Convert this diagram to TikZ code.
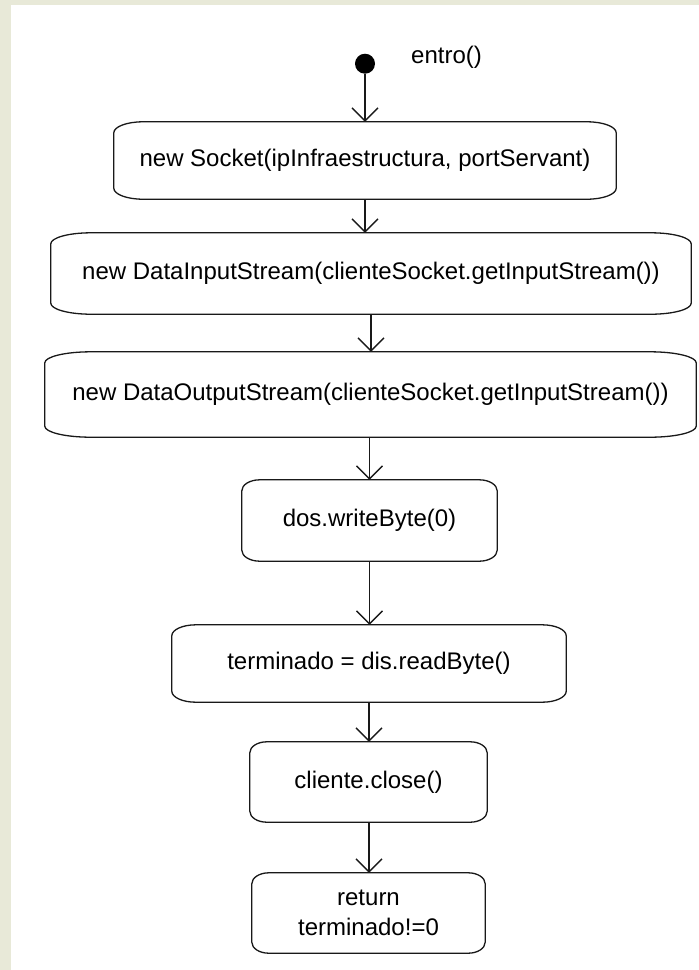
\documentclass[tikz,border=0pt]{standalone}
\usepackage{fontspec}
\setmainfont{Liberation Sans}
\usetikzlibrary{arrows.meta}

\definecolor{paper}{RGB}{232,233,216}
\newcommand\cornery{11pt}

% outline of an activity box: straight sides with elliptical corners
\newcommand\actoutline[2]{%
  \draw[outline] ([xshift=#2]#1.north west) -- ([xshift=-#2]#1.north east)
    arc[start angle=90, end angle=0, x radius=#2, y radius=\cornery]
    -- ([yshift=\cornery]#1.south east)
    arc[start angle=0, end angle=-90, x radius=#2, y radius=\cornery]
    -- ([xshift=#2]#1.south west)
    arc[start angle=270, end angle=180, x radius=#2, y radius=\cornery]
    -- ([yshift=-\cornery]#1.north west)
    arc[start angle=180, end angle=90, x radius=#2, y radius=\cornery]
    -- cycle;}

\begin{document}
\begin{tikzpicture}[x=1pt, y=1pt,
  txt/.style={font=\fontsize{24}{30}\selectfont, text=black},
  act/.style={txt, inner sep=0pt, align=center, draw=none},
  outline/.style={line width=1.3pt, draw=black!90},
  flow/.style={line width=1.3pt, draw=black!90,
    -{Straight Barb[length=13pt, width=26pt, line width=1.3pt]}},
  startdot/.style={circle, fill=black, minimum size=20pt, inner sep=0pt}]

  % page: textured margin strip and white sheet
  \useasboundingbox (0,0) rectangle (699,-970);
  \fill[paper] (0,0) rectangle (699,-970);
  \fill[white] (11,-5) rectangle (699,-970);

  % initial state
  \node[startdot] (start) at (365,-63.7) {};
  \node[txt, anchor=base west, inner sep=0pt] (lbl) at (411,-63) {entro()};

  % activities
  \node[act, minimum width=502pt, minimum height=77pt] (b1) at (365,-160.5)
    {new Socket(ipInfraestructura, portServant)};
  \node[act, minimum width=640pt, minimum height=81pt] (b2) at (371,-273.5)
    {new DataInputStream(clienteSocket.getInputStream())};
  \node[act, minimum width=651pt, minimum height=85pt] (b3) at (370.5,-394.5)
    {new DataOutputStream(clienteSocket.getInputStream())};
  \node[act, minimum width=255pt, minimum height=81pt] (b4) at (369.5,-520.5)
    {dos.writeByte(0)};
  \node[act, minimum width=394pt, minimum height=77pt] (b5) at (369,-663.5)
    {terminado = dis.readByte()};
  \node[act, minimum width=237pt, minimum height=80pt] (b6) at (368.5,-782)
    {cliente.close()};
  \node[act, minimum width=233pt, minimum height=80pt] (b7) at (368.5,-913)
    {return\\terminado!=0};

  \actoutline{b1}{29pt}
  \actoutline{b2}{40pt}
  \actoutline{b3}{46pt}
  \actoutline{b4}{18pt}
  \actoutline{b5}{24pt}
  \actoutline{b6}{17pt}
  \actoutline{b7}{17pt}

  % transitions
  \draw[flow] (start.south) -- (start.south |- b1.north);
  \draw[flow] (b1.south) -- (b1.south |- b2.north);
  \draw[flow] (b2.south) -- (b2.south |- b3.north);
  \draw[flow] (b4.north |- b3.south) -- (b4.north);
  \draw[flow] (b4.south) -- (b4.south |- b5.north);
  \draw[flow] (b5.south) -- (b5.south |- b6.north);
  \draw[flow] (b5.south |- b6.south) -- (b5.south |- b7.north);
\end{tikzpicture}
\end{document}
